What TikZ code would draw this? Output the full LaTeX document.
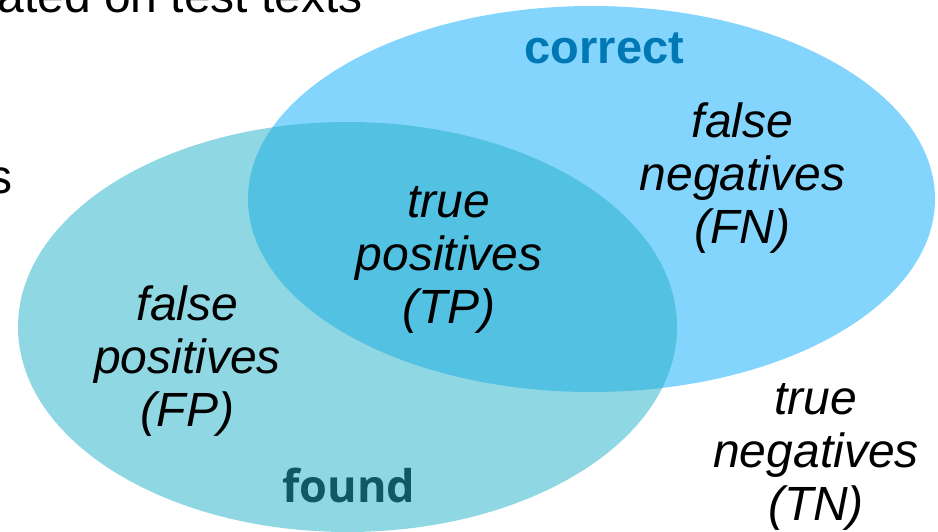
\documentclass[tikz,border=0pt]{standalone}
\usepackage{fontspec}
\setmainfont{Liberation Sans}
\newfontfamily\labelbold{Open Sans}
\begin{document}
\begin{tikzpicture}[x=1pt,y=-1pt,
  every node/.style={inner sep=0pt, outer sep=0pt},
  % region labels are placed by the baseline of their last line
  region/.style={font=\fontsize{48}{53}\selectfont\itshape, align=center, anchor=base},
  plain/.style={font=\fontsize{48}{53}\selectfont, anchor=base east},
  setname/.style={font=\fontsize{47}{53}\selectfont\bfseries, anchor=base}]
\definecolor{correctfill}{RGB}{131,213,253}
\definecolor{foundfill}{RGB}{142,215,227}
\definecolor{bothfill}{RGB}{82,193,226}
\definecolor{correcttext}{RGB}{0,120,180}
\definecolor{foundtext}{RGB}{16,88,100}
\useasboundingbox (0,0) rectangle (938,531);
\clip (0,0) rectangle (938,531);

% the two sets and their intersection
\fill[correctfill] (591.5,199) ellipse [x radius=343.5pt, y radius=193pt];
\fill[foundfill] (347.5,327) ellipse [x radius=329.5pt, y radius=205pt];
\begin{scope}
  \clip (347.5,327) ellipse [x radius=329.5pt, y radius=205pt];
  \fill[bothfill] (591.5,199) ellipse [x radius=343.5pt, y radius=193pt];
\end{scope}

% surrounding slide text
\node[plain] (caption) at (363,12.5) {ated on test texts};
\node[plain] (sideword) at (13,193) {s};

% set names
\node[setname, text=correcttext] (correct) at (604.5,63) {correct};
\node[setname, text=foundtext, font=\fontsize{45}{53}\labelbold\bfseries] (found) at (349,502) {found};

% region labels
\node[region] (tp) at (449,323) {true\\positives\\(TP)};
\node[region] (fn) at (742.5,243) {false\\negatives\\(FN)};
\node[region] (fp) at (187.5,426) {false\\positives\\(FP)};
\node[region] (tn) at (816,520) {true\\negatives\\(TN)};
\end{tikzpicture}
\end{document}
